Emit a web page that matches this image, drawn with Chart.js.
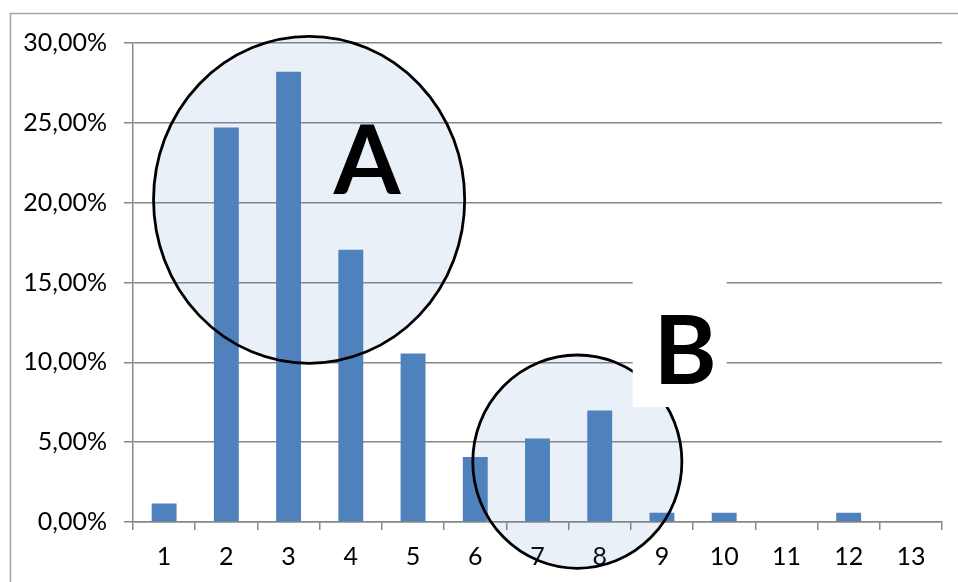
<!DOCTYPE html>
<html lang="en">
<head>
  <meta charset="UTF-8" />
  <title>Distribution</title>
  <script src="https://cdn.jsdelivr.net/npm/chart.js"></script>
  <style>
    body {
      margin: 0;
      padding: 0;
      background: #ffffff;
    }
    canvas {
      display: block;
    }
  </style>
</head>
<body>
  <canvas id="distChart" width="958" height="582"></canvas>

  <script>
    // categories and values (percent)
    const categories = ['1', '2', '3', '4', '5', '6', '7', '8', '9', '10', '11', '12', '13'];
    const shares = [1.16, 24.71, 28.20, 17.05, 10.56, 4.07, 5.23, 6.98, 0.58, 0.58, 0, 0.58, 0];
    const yTicks = [0, 5, 10, 15, 20, 25, 30];

    // circled groups, in data units (category index / percent)
    const groups = [
      { label: 'A', cx: 2.33, cy: 20.18, rx: 2.50, ry: 10.24, tx: 3.26, ty: 22.5, box: null },
      { label: 'B', cx: 6.64, cy: 3.78, rx: 1.68, ry: 6.68, tx: 8.37, ty: 10.6,
        box: { x0: 7.53, x1: 9.04, y0: 7.2, y1: 16.2 } }
    ];

    const gridGray = '#878787';

    const circleOverlay = {
      id: 'circleOverlay',
      beforeDraw(chart) {
        const ctx = chart.ctx;
        ctx.save();
        ctx.strokeStyle = '#a3a3a3';
        ctx.lineWidth = 1.5;
        ctx.strokeRect(10.5, 13.5, 1000, 1000);
        ctx.restore();
      },
      beforeDatasetsDraw(chart) {
        const { ctx, scales: { x, y } } = chart;
        ctx.save();
        groups.forEach(g => {
          const px = x.getPixelForValue(g.cx);
          const py = y.getPixelForValue(g.cy);
          const rx = x.getPixelForValue(g.cx + g.rx) - px;
          const ry = y.getPixelForValue(g.cy - g.ry) - py;
          ctx.beginPath();
          ctx.ellipse(px, py, rx, ry, 0, 0, Math.PI * 2);
          ctx.fillStyle = 'rgba(79, 129, 189, 0.12)';
          ctx.fill();
        });
        ctx.restore();
      },
      afterDatasetsDraw(chart) {
        const { ctx, scales: { x, y } } = chart;
        ctx.save();
        groups.forEach(g => {
          const px = x.getPixelForValue(g.cx);
          const py = y.getPixelForValue(g.cy);
          const rx = x.getPixelForValue(g.cx + g.rx) - px;
          const ry = y.getPixelForValue(g.cy - g.ry) - py;
          ctx.beginPath();
          ctx.ellipse(px, py, rx, ry, 0, 0, Math.PI * 2);
          ctx.strokeStyle = '#000000';
          ctx.lineWidth = 2.8;
          ctx.stroke();
        });
        groups.forEach(g => {
          if (g.box) {
            const bx0 = x.getPixelForValue(g.box.x0);
            const bx1 = x.getPixelForValue(g.box.x1);
            const by0 = y.getPixelForValue(g.box.y1);
            const by1 = y.getPixelForValue(g.box.y0);
            ctx.fillStyle = '#ffffff';
            ctx.fillRect(bx0, by0, bx1 - bx0, by1 - by0);
          }
          ctx.fillStyle = '#000000';
          ctx.font = 'bold 96px Lato';
          ctx.textAlign = 'center';
          ctx.textBaseline = 'middle';
          ctx.fillText(g.label, x.getPixelForValue(g.tx), y.getPixelForValue(g.ty));
        });
        ctx.restore();
      }
    };

    new Chart(document.getElementById('distChart'), {
      type: 'bar',
      data: {
        labels: categories,
        datasets: [{
          data: shares,
          backgroundColor: '#4f81bd',
          borderWidth: 0,
          categoryPercentage: 1.0,
          barPercentage: 0.40
        }]
      },
      options: {
        responsive: false,
        animation: false,
        devicePixelRatio: 1,
        layout: { padding: { top: 43, right: 16, left: 0, bottom: 0 } },
        plugins: {
          legend: { display: false },
          tooltip: { enabled: false }
        },
        scales: {
          x: {
            offset: true,
            grid: {
              offset: true,
              drawOnChartArea: false,
              drawTicks: true,
              tickLength: 8,
              color: gridGray,
              lineWidth: 1.5
            },
            border: { display: true, color: gridGray, width: 1.5 },
            ticks: {
              color: '#000000',
              padding: 12,
              font: { family: 'Lato', size: 25 }
            },
            afterFit(scale) { scale.height = 60; }
          },
          y: {
            min: 0,
            max: 30,
            afterBuildTicks(scale) {
              scale.ticks = yTicks.map(v => ({ value: v }));
            },
            grid: {
              color: gridGray,
              lineWidth: 1.5,
              drawTicks: true,
              tickLength: 9
            },
            border: { display: true, color: gridGray, width: 1.5 },
            ticks: {
              color: '#000000',
              padding: 17,
              font: { family: 'Lato', size: 25 },
              callback: v => v.toFixed(2).replace('.', ',') + '%'
            },
            afterFit(scale) { scale.width = 133; }
          }
        }
      },
      plugins: [circleOverlay]
    });
  </script>
</body>
</html>
